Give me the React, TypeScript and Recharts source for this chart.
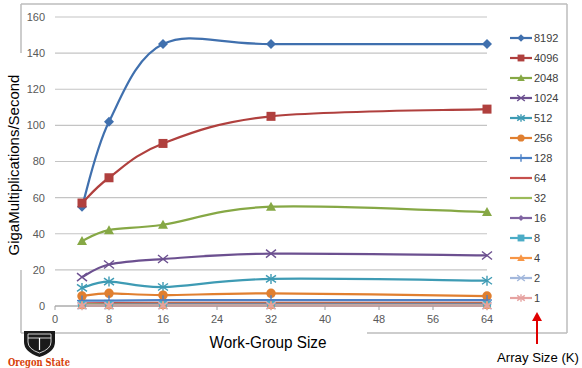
import { CartesianGrid, Line, LineChart, XAxis, YAxis } from "recharts";

// work-group sizes on the x axis
const WORK_GROUPS = [4, 8, 16, 32, 64];
const X_TICKS = [0, 8, 16, 24, 32, 40, 48, 56, 64];
const Y_TICKS = [0, 20, 40, 60, 80, 100, 120, 140, 160];

// array sizes (K), one series each
const SIZES = ["8192", "4096", "2048", "1024", "512", "256", "128", "64", "32", "16", "8", "4", "2", "1"];

const V8192 = [55, 102, 145, 145, 145];
const V4096 = [57, 71, 90, 105, 109];
const V2048 = [36, 42, 45, 55, 52];
const V1024 = [16, 23, 26, 29, 28];
const V512 = [10, 13.5, 10.5, 15, 14];
const V256 = [5.5, 7, 6, 7, 5.5];
const V128 = [3, 3, 3.2, 3.2, 3.3];
const V64 = [1.5, 1.6, 1.7, 1.8, 1.8];
const V32 = [1.0, 1.1, 1.2, 1.2, 1.2];
const V16 = [0.7, 0.8, 0.9, 0.9, 0.9];
const V8 = [0.5, 0.5, 0.6, 0.6, 0.6];
const V4 = [0.3, 0.3, 0.4, 0.4, 0.4];
const V2 = [0.2, 0.2, 0.2, 0.2, 0.2];
const V1 = [0.1, 0.1, 0.1, 0.1, 0.1];

const VALUES = [V8192, V4096, V2048, V1024, V512, V256, V128, V64, V32, V16, V8, V4, V2, V1];

const COLORS = ["#4070AE", "#B0403E", "#86A845", "#6C5090", "#3E9BB4", "#E07F30", "#4B80C6", "#C6504D",
  "#9BBB59", "#8064A2", "#4BACC6", "#F79646", "#A3B8DC", "#E6A3A1"];
const SHAPES = ["diamond", "square", "triangle", "x", "star", "circle", "plus", "none",
  "none", "diamond", "square", "triangle", "x", "star"];

const rows = WORK_GROUPS.map((wg, i) => {
  const r: Record<string, number> = { wg };
  SIZES.forEach((s, k) => { r["s" + s] = VALUES[k][i]; });
  return r;
});

// excel-like smoothing (catmull-rom through the points)
function excelCurve(context: any) {
  let pts: [number, number][] = [];
  return {
    areaStart() {},
    areaEnd() {},
    lineStart() { pts = []; },
    lineEnd() {
      if (!pts.length) return;
      context.moveTo(pts[0][0], pts[0][1]);
      for (let i = 0; i < pts.length - 1; i++) {
        const p0 = pts[Math.max(i - 1, 0)], p1 = pts[i], p2 = pts[i + 1], p3 = pts[Math.min(i + 2, pts.length - 1)];
        context.bezierCurveTo(
          p1[0] + (p2[0] - p0[0]) / 6, p1[1] + (p2[1] - p0[1]) / 6,
          p2[0] - (p3[0] - p1[0]) / 6, p2[1] - (p3[1] - p1[1]) / 6,
          p2[0], p2[1]);
      }
    },
    point(x: number, y: number) { pts.push([x, y]); },
  };
}

function Marker({ cx, cy, shape, color, s }: { cx: number; cy: number; shape: string; color: string; s: number }) {
  if (cx == null || cy == null) return null;
  switch (shape) {
    case "diamond":
      return <polygon points={`${cx},${cy - s} ${cx + s},${cy} ${cx},${cy + s} ${cx - s},${cy}`} fill={color} />;
    case "square":
      return <rect x={cx - s * 0.9} y={cy - s * 0.9} width={s * 1.8} height={s * 1.8} fill={color} />;
    case "triangle":
      return <polygon points={`${cx},${cy - s} ${cx + s},${cy + s * 0.8} ${cx - s},${cy + s * 0.8}`} fill={color} />;
    case "circle":
      return <circle cx={cx} cy={cy} r={s * 0.95} fill={color} />;
    case "x":
      return <g stroke={color} strokeWidth={1.4}>
        <line x1={cx - s} y1={cy - s * 0.8} x2={cx + s} y2={cy + s * 0.8} />
        <line x1={cx - s} y1={cy + s * 0.8} x2={cx + s} y2={cy - s * 0.8} />
      </g>;
    case "star":
      return <g stroke={color} strokeWidth={1.4}>
        <line x1={cx - s} y1={cy - s * 0.7} x2={cx + s} y2={cy + s * 0.7} />
        <line x1={cx - s} y1={cy + s * 0.7} x2={cx + s} y2={cy - s * 0.7} />
        <line x1={cx} y1={cy - s} x2={cx} y2={cy + s} />
      </g>;
    case "plus":
      return <g stroke={color} strokeWidth={1.4}>
        <line x1={cx - s} y1={cy} x2={cx + s} y2={cy} />
        <line x1={cx} y1={cy - s} x2={cx} y2={cy + s} />
      </g>;
    default:
      return null;
  }
}

export default function App() {
  return (
    <div style={{ position: "absolute", left: 0, top: 0, width: 582, height: 368, background: "#fff", fontFamily: "Arial, 'Liberation Sans', sans-serif" }}>
      <svg width={582} height={368} style={{ position: "absolute", left: 0, top: 0 }}>
        <g stroke="#BDBDBD" strokeWidth={1.5} fill="none">
          <line x1={21} y1={4} x2={567} y2={4} />
          <line x1={567} y1={4} x2={567} y2={333} />
          <line x1={367} y1={333} x2={567} y2={333} />
          <line x1={21} y1={333} x2={170} y2={333} />
          <line x1={21} y1={4} x2={21} y2={53} />
          <line x1={21} y1={270} x2={21} y2={333} />
        </g>
      </svg>
      <div style={{ position: "absolute", left: 0, top: 0 }}>
        <LineChart width={582} height={368} data={rows} margin={{ top: 17, right: 95, left: 0, bottom: 32 }}>
          <CartesianGrid vertical={false} stroke="#C4C4C4" strokeWidth={1.2} />
          <XAxis dataKey="wg" type="number" domain={[0, 64]} ticks={X_TICKS} height={30}
            stroke="#A0A0A0" tickSize={4} tickMargin={5}
            tick={{ fill: "#595959", fontSize: 11 }} interval={0} />
          <YAxis type="number" domain={[0, 160]} ticks={Y_TICKS} width={55}
            axisLine={false} tickLine={false} tickSize={0} tickMargin={10}
            tick={{ fill: "#595959", fontSize: 11 }} interval={0} />
          {SIZES.map((s, k) => (
            <Line key={s} dataKey={"s" + s} name={s} type={excelCurve as any}
              stroke={COLORS[k]} strokeWidth={2.2} isAnimationActive={false}
              dot={(p: any) => <Marker key={s + "-" + p.index} cx={p.cx} cy={p.cy} shape={SHAPES[k]} color={COLORS[k]} s={k < 7 ? 5 : 4.5} />}
              activeDot={false} />
          ))}
        </LineChart>
      </div>
      <svg width={582} height={368} style={{ position: "absolute", left: 0, top: 0 }}>
        {SIZES.map((s, k) => {
          const y = 38 + k * 20;
          return <g key={s}>
            <line x1={510} y1={y} x2={532} y2={y} stroke={COLORS[k]} strokeWidth={2.2} />
            <Marker cx={521} cy={y} shape={SHAPES[k]} color={COLORS[k]} s={k === 9 ? 3 : 3.8} />
            <text x={534} y={y + 4} fontSize={11} fill="#404040">{s}</text>
          </g>;
        })}
        <text x={0} y={0} transform="translate(19,165) rotate(-90)" textAnchor="middle" fontSize={15} fill="#000">
          GigaMultiplications/Second
        </text>
        <text x={268} y={348} textAnchor="middle" fontSize={16} fill="#000" textLength={117} lengthAdjust="spacingAndGlyphs">Work-Group Size</text>
        <text x={497} y={362} fontSize={13.5} fill="#000" textLength={82} lengthAdjust="spacingAndGlyphs">Array Size (K)</text>
        <line x1={537} y1={344} x2={537} y2={318} stroke="#E00000" strokeWidth={2} />
        <polygon points="537,312 532,321 542,321" fill="#E00000" />
        {/* logo */}
        <path d="M24,331 L55,331 L55,342 Q55,352 39.5,357 Q24,352 24,342 Z" fill="#1a1a1a" />
        <path d="M28,334 L51,334 L51,342 Q51,349 39.5,353 Q28,349 28,342 Z" fill="none" stroke="#fff" strokeWidth={0.8} />
        <line x1={28} y1={338} x2={51} y2={338} stroke="#fff" strokeWidth={0.8} />
        <line x1={39.5} y1={338} x2={39.5} y2={350} stroke="#fff" strokeWidth={1.2} />
        <text x={8} y={366} fontSize={11} fontWeight="bold" fontFamily="'DejaVu Serif', 'Liberation Serif', serif" fill="#D73F09" textLength={62} lengthAdjust="spacingAndGlyphs">Oregon State</text>
      </svg>
    </div>
  );
}
